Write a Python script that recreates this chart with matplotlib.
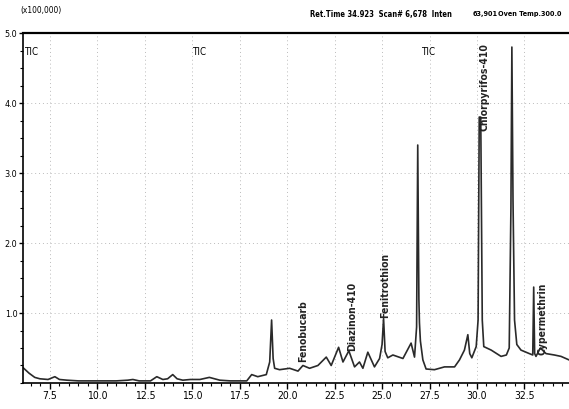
import matplotlib
matplotlib.use("Agg")
import matplotlib.pyplot as plt
import numpy as np
from matplotlib.ticker import MultipleLocator

plt.rcParams['font.family'] = ['Liberation Sans Narrow', 'DejaVu Sans']
plt.rcParams['font.stretch'] = 'condensed'

# retention time (min) / intensity (x100,000)
ret_time = [6.08, 6.4, 6.7, 6.97, 7.4, 7.76, 8.0, 8.4, 9.0, 10.0, 11.0, 11.6, 11.87, 12.2,
            12.8, 13.13, 13.45, 13.7, 13.97, 14.2, 14.5, 14.9, 15.4, 15.9, 16.45, 17.0,
            17.87, 18.13, 18.45, 18.9, 19.08, 19.18, 19.26, 19.34, 19.6, 20.13, 20.57,
            20.83, 21.18, 21.62, 22.06, 22.32, 22.71, 22.94, 23.25, 23.55, 23.81, 23.99,
            24.25, 24.6, 24.87, 25.0, 25.08, 25.16, 25.3, 25.57, 26.1, 26.53, 26.71,
            26.82, 26.88, 26.94, 26.97, 27.02, 27.15, 27.32, 27.76, 28.29, 28.82, 29.08,
            29.34, 29.52, 29.62, 29.73, 29.96, 30.06, 30.12, 30.2, 30.28, 30.36, 30.75,
            31.27, 31.55, 31.7, 31.79, 31.84, 31.9, 31.98, 32.1, 32.32, 32.76, 32.94, 32.99,
            33.04, 33.11, 33.34, 33.64, 34.08, 34.43, 34.85]
intensity = [0.22, 0.14, 0.08, 0.06, 0.05, 0.09, 0.05, 0.04, 0.03, 0.03, 0.03, 0.04, 0.05, 0.03,
             0.03, 0.09, 0.05, 0.06, 0.12, 0.06, 0.04, 0.05, 0.05, 0.08, 0.04, 0.03,
             0.03, 0.12, 0.09, 0.12, 0.3, 0.9, 0.35, 0.21, 0.19, 0.21, 0.17,
             0.25, 0.21, 0.25, 0.37, 0.25, 0.51, 0.3, 0.46, 0.23, 0.3, 0.21,
             0.44, 0.23, 0.35, 0.55, 0.92, 0.45, 0.36, 0.4, 0.35, 0.57, 0.37,
             0.8, 3.4, 1.2, 0.86, 0.6, 0.33, 0.2, 0.19, 0.23, 0.23, 0.33,
             0.47, 0.69, 0.42, 0.36, 0.52, 0.9, 3.8, 3.8, 0.9, 0.52, 0.47,
             0.38, 0.4, 0.5, 2.5, 4.8, 2.6, 0.9, 0.55, 0.47, 0.42, 0.4, 1.37,
             0.42, 0.38, 0.5, 0.42, 0.4, 0.38, 0.33]

x_ticks = [7.5, 10.0, 12.5, 15.0, 17.5, 20.0, 22.5, 25.0, 27.5, 30.0, 32.5]
y_ticks = [1.0, 2.0, 3.0, 4.0, 5.0]

compounds = ["Fenobucarb", "Diazinon-410", "Fenitrothion", "Chlorpyrifos-410", "Cypermethrin"]
comp_time = [20.85, 23.4, 25.15, 30.4, 33.45]
comp_base = [0.3, 0.45, 0.93, 3.6, 0.4]

fig = plt.figure(figsize=(5.69, 4.09), dpi=100)
ax = fig.add_axes([0.0404, 0.0636, 0.9596, 0.8555])

ax.plot(ret_time, intensity, color='#2a2a2a', lw=1.2)

ax.set_xlim(6.08, 34.85)
ax.set_ylim(0, 5.0)
ax.set_xticks(x_ticks)
ax.set_xticklabels([f"{v:.1f}" for v in x_ticks])
ax.set_yticks(y_ticks)
ax.set_yticklabels([f"{v:.1f}" for v in y_ticks])
ax.xaxis.set_minor_locator(MultipleLocator(0.5))
ax.yaxis.set_minor_locator(MultipleLocator(0.25))
ax.tick_params(axis='x', which='major', length=4, width=1, labelsize=7.5, pad=2)
ax.tick_params(axis='y', which='major', length=3, width=1, labelsize=6.5, pad=1)
ax.tick_params(axis='both', which='minor', length=2, width=0.8)

for v in x_ticks:
    ax.axvline(v, color='#bbbbbb', lw=0.7, ls=(0, (1, 3)), zorder=0)
for v in y_ticks[:-1]:
    ax.axhline(v, color='#bbbbbb', lw=0.7, ls=(0, (1, 3)), zorder=0)

ax.spines['right'].set_visible(False)
ax.spines['top'].set_linewidth(1.6)
ax.spines['left'].set_linewidth(1.2)
ax.spines['bottom'].set_linewidth(1.2)

# compound labels above the peaks
for name, t, b in zip(compounds, comp_time, comp_base):
    ax.text(t, b, name, rotation=90, ha='center', va='bottom',
            fontsize=7.5, fontweight='bold', color='#222222')

# header texts
fig.text(0.035, 0.975, "(x100,000)", fontsize=6, ha='left', va='center')
fig.text(0.545, 0.965, "Ret.Time 34.923  Scan# 6,678  Inten", fontsize=5.5, fontweight='bold',
         ha='left', va='center')
fig.text(0.83, 0.965, "63,901", fontsize=5.2, fontweight='bold', ha='left', va='center')
fig.text(0.876, 0.965, "Oven Temp.300.0", fontsize=5.2, fontweight='bold', ha='left', va='center')
for xp in [0.042, 0.337, 0.74]:
    fig.text(xp, 0.872, "TIC", fontsize=7, ha='left', va='center')

fig.savefig("out.png", dpi=100)
